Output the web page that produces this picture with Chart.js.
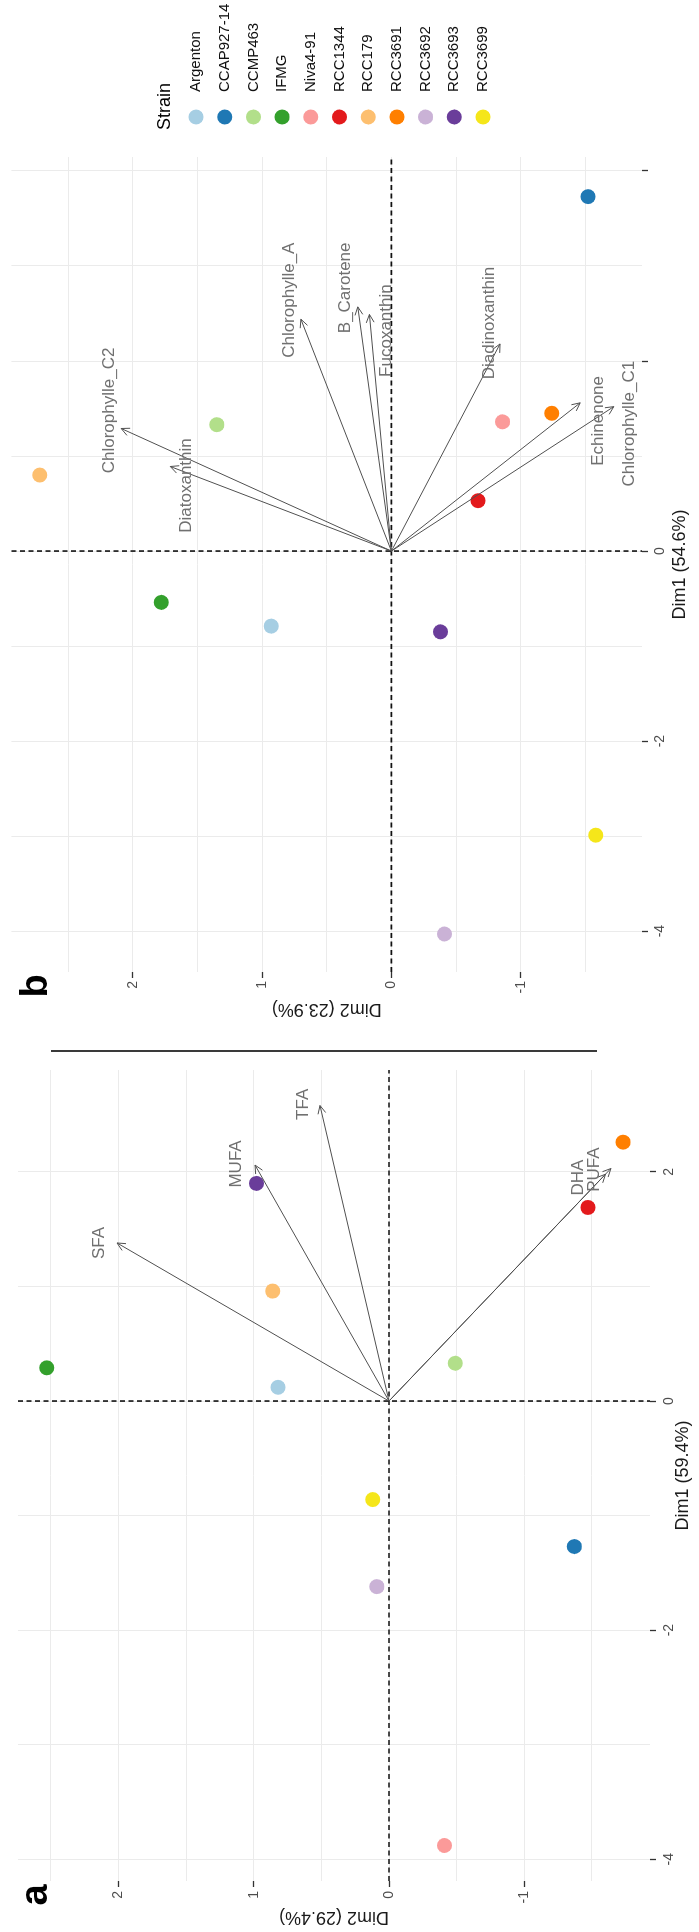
<!DOCTYPE html>
<html>
<head>
<meta charset="utf-8">
<script src="https://cdn.jsdelivr.net/npm/chart.js@4.4.1/dist/chart.umd.min.js"></script>
<style>
  html, body { margin: 0; padding: 0; background: #fff; }
  body { width: 699px; height: 1932px; overflow: hidden; position: relative; }
  /* the two panels are laid out landscape, then turned a quarter left */
  #stage {
    position: absolute; left: 0; top: 0;
    width: 1932px; height: 699px;
    transform-origin: 0 0;
    transform: translate(0px, 1932px) rotate(-90deg);
  }
  .panel { position: absolute; top: 0; }
  #divider { position: absolute; left: 880px; top: 51px; width: 2px; height: 546px; background: #3a3a3a; }
</style>
</head>
<body>
<div id="stage">
  <div class="panel" style="left:0"><canvas id="chartA" width="900" height="699"></canvas></div>
  <div class="panel" style="left:900px"><canvas id="chartB" width="1032" height="699"></canvas></div>
  <div id="divider"></div>
</div>
<script>
const strains = ['Argenton', 'CCAP927-14', 'CCMP463', 'IFMG', 'Niva4-91', 'RCC1344', 'RCC179', 'RCC3691', 'RCC3692', 'RCC3693', 'RCC3699'];
const strainColors = ['#A6CEE3', '#1F78B4', '#B2DF8A', '#33A02C', '#FB9A99', '#E31A1C', '#FDBF6F', '#FF7F00', '#CAB2D6', '#6A3D9A', '#F5E61A'];

// fatty acid PCA, strains in the order above
const faDim1 = [0.12, -1.27, 0.33, 0.29, -3.88, 1.69, 0.96, 2.26, -1.62, 1.90, -0.86];
const faDim2 = [0.82, -1.37, -0.49, 2.53, -0.41, -1.47, 0.86, -1.73, 0.09, 0.98, 0.12];
const faVars = ['SFA', 'MUFA', 'TFA', 'DHA', 'PUFA'];
const faVarDim1 = [1.38, 2.06, 2.58, 1.98, 2.03];
const faVarDim2 = [2.01, 0.99, 0.51, -1.60, -1.64];
const faLabelDim1 = [1.38, 2.07, 2.59, 1.95, 2.02];
const faLabelDim2 = [2.14, 1.13, 0.63, -1.40, -1.52];

// pigment PCA
const pgDim1 = [-0.79, 3.73, 1.33, -0.54, 1.36, 0.53, 0.80, 1.45, -4.03, -0.85, -2.99];
const pgDim2 = [0.93, -1.52, 1.35, 1.78, -0.86, -0.67, 2.72, -1.24, -0.41, -0.38, -1.58];
const pgVars = ['Chlorophylle_C2', 'Diatoxanthin', 'Chlorophylle_A', 'B_Carotene', 'Fucoxanthin', 'Diadinoxanthin', 'Echinenone', 'Chlorophylle_C1'];
const pgVarDim1 = [1.29, 0.89, 2.44, 2.57, 2.49, 2.18, 1.56, 1.52];
const pgVarDim2 = [2.09, 1.71, 0.70, 0.26, 0.17, -0.84, -1.46, -1.72];
const pgLabelDim1 = [1.48, 0.69, 2.64, 2.77, 2.32, 2.40, 1.37, 1.34];
const pgLabelDim2 = [2.18, 1.59, 0.79, 0.36, 0.04, -0.76, -1.60, -1.84];

// grid lines, tick marks and tick labels
const gridDim1A = [-4, -3, -2, -1, 0, 1, 2];
const markDim1A = [-4, -2, 0, 2];
const labelDim1A = [-4, -2, 0, 2];
const gridDim1B = [-4, -3, -2, -1, 0, 1, 2, 3, 4];
const markDim1B = [-4, -2, 0, 2, 4];
const labelDim1B = [-4, -2, 0];
const gridDim2 = [-1.5, -1, -0.5, 0, 0.5, 1, 1.5, 2, 2.5];
const markDim2 = [-1, 0, 1, 2];
const labelDim2 = [-1, 0, 1, 2];

Chart.defaults.font.family = "'Liberation Sans', Arial, sans-serif";

function makeDatasets(d1, d2) {
    return strains.map((s, i) => ({
        label: s,
        data: [{ x: d1[i], y: d2[i] }],
        backgroundColor: strainColors[i],
        borderWidth: 0,
        pointRadius: 7.5,
        pointHoverRadius: 7.5
    }));
}

function axis(cfg) {
    return {
        type: 'linear',
        position: cfg.position,
        min: cfg.min,
        max: cfg.max,
        afterBuildTicks: s => { s.ticks = cfg.grid.map(v => ({ value: v })); },
        afterFit: s => { if (cfg.position === 'bottom') s.height = cfg.size; else s.width = cfg.size; },
        border: { display: false },
        grid: {
            color: '#EBEBEB',
            lineWidth: 1,
            drawTicks: true,
            tickLength: 6,
            tickWidth: 1.3,
            tickColor: ctx => cfg.marks.includes(ctx.tick.value) ? '#333' : 'rgba(0,0,0,0)'
        },
        ticks: {
            autoSkip: false,
            maxRotation: 0,
            padding: cfg.tickPad,
            color: '#4D4D4D',
            font: { size: 14 },
            callback: v => cfg.labels.includes(v) ? String(v) : ''
        },
        title: {
            display: true,
            text: cfg.title,
            color: '#1a1a1a',
            font: { size: 18 },
            padding: cfg.titlePad
        }
    };
}

// dashed zero lines, variable arrows with their names, panel letter
function biplot(vars, tipD1, tipD2, labD1, labD2, letter, letterX) {
    return {
        id: 'biplot',
        beforeDatasetsDraw(chart) {
            const { ctx, chartArea: a, scales: { x, y } } = chart;
            const x0 = x.getPixelForValue(0), y0 = y.getPixelForValue(0);
            ctx.save();
            ctx.strokeStyle = '#111';
            ctx.lineWidth = 1.6;
            ctx.setLineDash([5, 3.5]);
            ctx.beginPath();
            ctx.moveTo(x0, a.top); ctx.lineTo(x0, a.bottom);
            ctx.moveTo(a.left, y0); ctx.lineTo(a.right, y0);
            ctx.stroke();
            ctx.restore();
        },
        afterDatasetsDraw(chart) {
            const { ctx, scales: { x, y } } = chart;
            const x0 = x.getPixelForValue(0), y0 = y.getPixelForValue(0);
            ctx.save();
            ctx.strokeStyle = '#505050';
            ctx.lineWidth = 1;
            vars.forEach((name, i) => {
                const tx = x.getPixelForValue(tipD1[i]);
                const ty = y.getPixelForValue(tipD2[i]);
                const ang = Math.atan2(ty - y0, tx - x0);
                ctx.beginPath();
                ctx.moveTo(x0, y0);
                ctx.lineTo(tx, ty);
                ctx.moveTo(tx - 9 * Math.cos(ang - 0.45), ty - 9 * Math.sin(ang - 0.45));
                ctx.lineTo(tx, ty);
                ctx.lineTo(tx - 9 * Math.cos(ang + 0.45), ty - 9 * Math.sin(ang + 0.45));
                ctx.stroke();
            });
            ctx.fillStyle = '#707070';
            ctx.font = "17px 'Liberation Sans', Arial, sans-serif";
            ctx.textAlign = 'center';
            ctx.textBaseline = 'middle';
            vars.forEach((name, i) => {
                ctx.fillText(name, x.getPixelForValue(labD1[i]), y.getPixelForValue(labD2[i]));
            });
            ctx.restore();
        },
        afterDraw(chart) {
            const ctx = chart.ctx;
            ctx.save();
            ctx.fillStyle = '#000';
            ctx.font = "bold 38px 'Liberation Sans', Arial, sans-serif";
            ctx.textAlign = 'center';
            ctx.textBaseline = 'alphabetic';
            ctx.fillText(letter, letterX, 47);
            ctx.restore();
        }
    };
}

const strainLegend = {
    id: 'strainLegend',
    afterDraw(chart) {
        const ctx = chart.ctx;
        ctx.save();
        ctx.fillStyle = '#000';
        ctx.textAlign = 'left';
        ctx.textBaseline = 'middle';
        ctx.font = "18px 'Liberation Sans', Arial, sans-serif";
        ctx.fillText('Strain', 902, 165);
        ctx.font = "15px 'Liberation Sans', Arial, sans-serif";
        chart.data.datasets.forEach((ds, i) => {
            const cy = 196 + i * 28.7;
            ctx.fillStyle = ds.backgroundColor;
            ctx.beginPath();
            ctx.arc(915, cy, 7.5, 0, Math.PI * 2);
            ctx.fill();
            ctx.fillStyle = '#111';
            ctx.fillText(ds.label, 940, cy);
        });
        ctx.restore();
    }
};

const baseOptions = (padding) => ({
    responsive: false,
    animation: false,
    events: [],
    layout: { padding },
    plugins: { legend: { display: false }, tooltip: { enabled: false } }
});

new Chart(document.getElementById('chartA'), {
    type: 'scatter',
    data: { datasets: makeDatasets(faDim1, faDim2) },
    options: {
        ...baseOptions({ left: 0, right: 38, top: 18, bottom: 0 }),
        scales: {
            x: axis({ position: 'bottom', min: -4.19, max: 2.89, size: 49, grid: gridDim1A, marks: markDim1A, labels: labelDim1A,
                      tickPad: 5, title: 'Dim1 (59.4%)', titlePad: { top: 0, bottom: 5.2 } }),
            y: axis({ position: 'left', min: -1.929, max: 2.742, size: 51, grid: gridDim2, marks: markDim2, labels: labelDim2,
                      tickPad: 4, title: 'Dim2 (29.4%)', titlePad: { top: 4.7, bottom: 0 } })
        }
    },
    plugins: [biplot(faVars, faVarDim1, faVarDim2, faLabelDim1, faLabelDim2, 'a', 37)]
});

new Chart(document.getElementById('chartB'), {
    type: 'scatter',
    data: { datasets: makeDatasets(pgDim1, pgDim2) },
    options: {
        ...baseOptions({ left: 0, right: 157, top: 9, bottom: 0 }),
        scales: {
            x: axis({ position: 'bottom', min: -4.43, max: 4.147, size: 57, grid: gridDim1B, marks: markDim1B, labels: labelDim1B,
                      tickPad: 4, title: 'Dim1 (54.6%)', titlePad: { top: 0, bottom: 8.2 } }),
            y: axis({ position: 'left', min: -1.938, max: 2.939, size: 60, grid: gridDim2, marks: markDim2, labels: labelDim2,
                      tickPad: 3, title: 'Dim2 (23.9%)', titlePad: { top: 12.7, bottom: 0 } })
        }
    },
    plugins: [biplot(pgVars, pgVarDim1, pgVarDim2, pgLabelDim1, pgLabelDim2, 'b', 46), strainLegend]
});
</script>
</body>
</html>
